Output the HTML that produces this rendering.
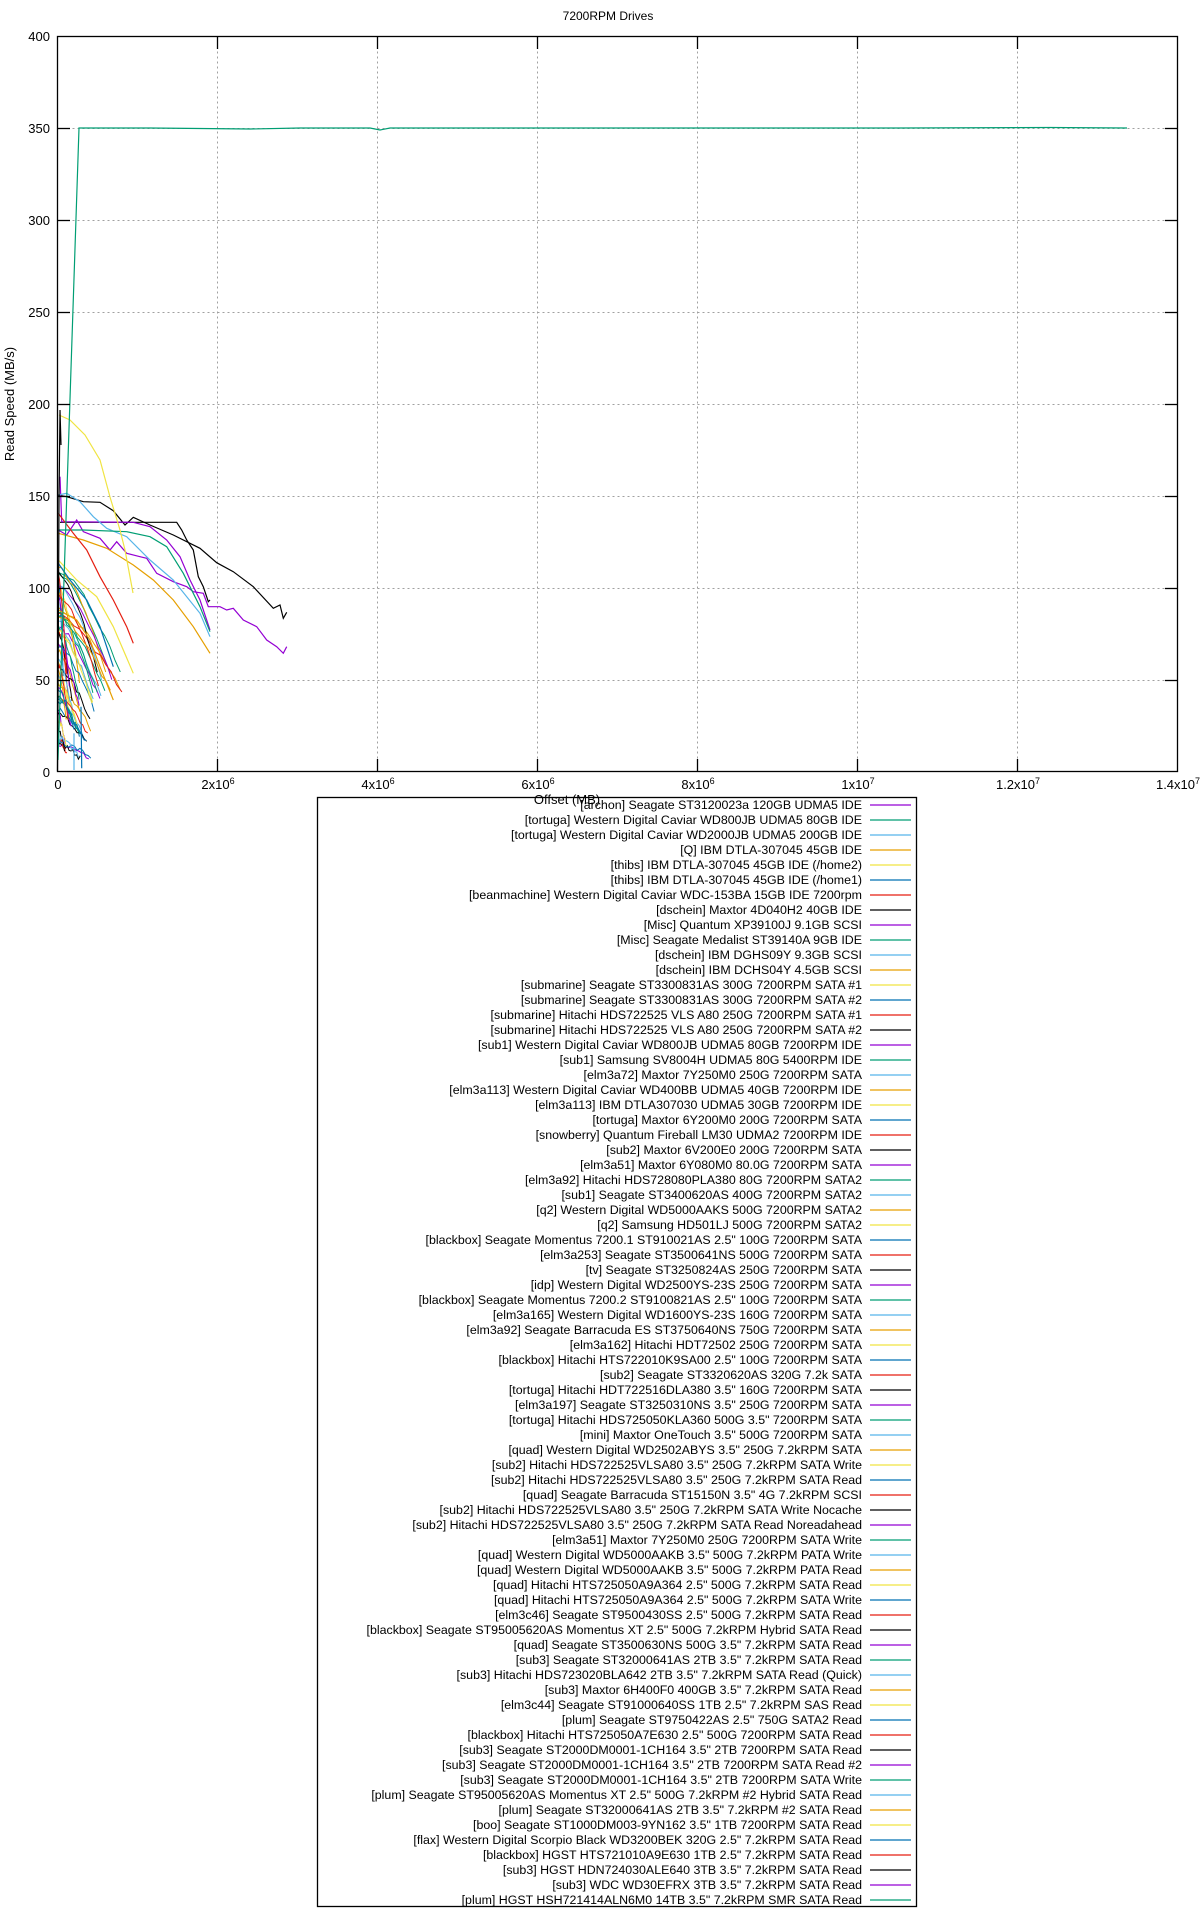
<!DOCTYPE html>
<html><head><meta charset="utf-8"><style>
html,body{margin:0;padding:0;background:#fff;}
svg{display:block;font-family:"Liberation Sans",sans-serif;}
</style></head><body>
<svg id="s" width="1200" height="1920" xmlns="http://www.w3.org/2000/svg">
<rect width="1200" height="1920" fill="#fff"/>
<text x="608" y="20" font-size="12" text-anchor="middle">7200RPM Drives</text>
<g id="grid" stroke="#a0a0a0" stroke-width="1" stroke-dasharray="2,3" fill="none"></g>
<g id="data" fill="none" stroke-width="1.2"></g>
<rect x="57.5" y="36.5" width="1120" height="735" fill="none" stroke="#000" stroke-width="1.3"/>
<g id="ticks" stroke="#000" stroke-width="1.3"></g>
<g font-size="13" text-anchor="end">
<text x="50" y="41">400</text><text x="50" y="133">350</text><text x="50" y="225">300</text>
<text x="50" y="317">250</text><text x="50" y="409">200</text><text x="50" y="501">150</text>
<text x="50" y="593">100</text><text x="50" y="685">50</text><text x="50" y="777">0</text>
</g>
<g font-size="13" text-anchor="middle">
<text x="58" y="789">0</text>
<text x="218" y="789">2x10<tspan font-size="9" dy="-5">6</tspan></text>
<text x="378" y="789">4x10<tspan font-size="9" dy="-5">6</tspan></text>
<text x="538" y="789">6x10<tspan font-size="9" dy="-5">6</tspan></text>
<text x="698" y="789">8x10<tspan font-size="9" dy="-5">6</tspan></text>
<text x="858" y="789">1x10<tspan font-size="9" dy="-5">7</tspan></text>
<text x="1018" y="789">1.2x10<tspan font-size="9" dy="-5">7</tspan></text>
<text x="1178" y="789">1.4x10<tspan font-size="9" dy="-5">7</tspan></text>
</g>
<text x="567" y="804" font-size="13" text-anchor="middle">Offset (MB)</text>
<text transform="translate(14,404) rotate(-90)" font-size="13" text-anchor="middle">Read Speed (MB/s)</text>
<rect x="317.5" y="797.5" width="599" height="1109" fill="none" stroke="#000" stroke-width="1.3"/>
<g id="leg" font-size="12.4" text-anchor="end">
<text x="862" y="809">[archon] Seagate ST3120023a 120GB UDMA5 IDE</text>
<text x="862" y="824">[tortuga] Western Digital Caviar WD800JB UDMA5 80GB IDE</text>
<text x="862" y="839">[tortuga] Western Digital Caviar WD2000JB UDMA5 200GB IDE</text>
<text x="862" y="854">[Q] IBM DTLA-307045 45GB IDE</text>
<text x="862" y="869">[thibs] IBM DTLA-307045 45GB IDE (/home2)</text>
<text x="862" y="884">[thibs] IBM DTLA-307045 45GB IDE (/home1)</text>
<text x="862" y="899">[beanmachine] Western Digital Caviar WDC-153BA 15GB IDE 7200rpm</text>
<text x="862" y="914">[dschein] Maxtor 4D040H2 40GB IDE</text>
<text x="862" y="929">[Misc] Quantum XP39100J 9.1GB SCSI</text>
<text x="862" y="944">[Misc] Seagate Medalist ST39140A 9GB IDE</text>
<text x="862" y="959">[dschein] IBM DGHS09Y 9.3GB SCSI</text>
<text x="862" y="974">[dschein] IBM DCHS04Y 4.5GB SCSI</text>
<text x="862" y="989">[submarine] Seagate ST3300831AS 300G 7200RPM SATA #1</text>
<text x="862" y="1004">[submarine] Seagate ST3300831AS 300G 7200RPM SATA #2</text>
<text x="862" y="1019">[submarine] Hitachi HDS722525 VLS A80 250G 7200RPM SATA #1</text>
<text x="862" y="1034">[submarine] Hitachi HDS722525 VLS A80 250G 7200RPM SATA #2</text>
<text x="862" y="1049">[sub1] Western Digital Caviar WD800JB UDMA5 80GB 7200RPM IDE</text>
<text x="862" y="1064">[sub1] Samsung SV8004H UDMA5 80G 5400RPM IDE</text>
<text x="862" y="1079">[elm3a72] Maxtor 7Y250M0 250G 7200RPM SATA</text>
<text x="862" y="1094">[elm3a113] Western Digital Caviar WD400BB UDMA5 40GB 7200RPM IDE</text>
<text x="862" y="1109">[elm3a113] IBM DTLA307030 UDMA5 30GB 7200RPM IDE</text>
<text x="862" y="1124">[tortuga] Maxtor 6Y200M0 200G 7200RPM SATA</text>
<text x="862" y="1139">[snowberry] Quantum Fireball LM30 UDMA2 7200RPM IDE</text>
<text x="862" y="1154">[sub2] Maxtor 6V200E0 200G 7200RPM SATA</text>
<text x="862" y="1169">[elm3a51] Maxtor 6Y080M0 80.0G 7200RPM SATA</text>
<text x="862" y="1184">[elm3a92] Hitachi HDS728080PLA380 80G 7200RPM SATA2</text>
<text x="862" y="1199">[sub1] Seagate ST3400620AS 400G 7200RPM SATA2</text>
<text x="862" y="1214">[q2] Western Digital WD5000AAKS 500G 7200RPM SATA2</text>
<text x="862" y="1229">[q2] Samsung HD501LJ 500G 7200RPM SATA2</text>
<text x="862" y="1244">[blackbox] Seagate Momentus 7200.1 ST910021AS 2.5" 100G 7200RPM SATA</text>
<text x="862" y="1259">[elm3a253] Seagate ST3500641NS 500G 7200RPM SATA</text>
<text x="862" y="1274">[tv] Seagate ST3250824AS 250G 7200RPM SATA</text>
<text x="862" y="1289">[idp] Western Digital WD2500YS-23S 250G 7200RPM SATA</text>
<text x="862" y="1304">[blackbox] Seagate Momentus 7200.2 ST9100821AS 2.5" 100G 7200RPM SATA</text>
<text x="862" y="1319">[elm3a165] Western Digital WD1600YS-23S 160G 7200RPM SATA</text>
<text x="862" y="1334">[elm3a92] Seagate Barracuda ES ST3750640NS 750G 7200RPM SATA</text>
<text x="862" y="1349">[elm3a162] Hitachi HDT72502 250G 7200RPM SATA</text>
<text x="862" y="1364">[blackbox] Hitachi HTS722010K9SA00 2.5" 100G 7200RPM SATA</text>
<text x="862" y="1379">[sub2] Seagate ST3320620AS 320G 7.2k SATA</text>
<text x="862" y="1394">[tortuga] Hitachi HDT722516DLA380 3.5" 160G 7200RPM SATA</text>
<text x="862" y="1409">[elm3a197] Seagate ST3250310NS 3.5" 250G 7200RPM SATA</text>
<text x="862" y="1424">[tortuga] Hitachi HDS725050KLA360 500G 3.5" 7200RPM SATA</text>
<text x="862" y="1439">[mini] Maxtor OneTouch 3.5" 500G 7200RPM SATA</text>
<text x="862" y="1454">[quad] Western Digital WD2502ABYS 3.5" 250G 7.2kRPM SATA</text>
<text x="862" y="1469">[sub2] Hitachi HDS722525VLSA80 3.5" 250G 7.2kRPM SATA Write</text>
<text x="862" y="1484">[sub2] Hitachi HDS722525VLSA80 3.5" 250G 7.2kRPM SATA Read</text>
<text x="862" y="1499">[quad] Seagate Barracuda ST15150N 3.5" 4G 7.2kRPM SCSI</text>
<text x="862" y="1514">[sub2] Hitachi HDS722525VLSA80 3.5" 250G 7.2kRPM SATA Write Nocache</text>
<text x="862" y="1529">[sub2] Hitachi HDS722525VLSA80 3.5" 250G 7.2kRPM SATA Read Noreadahead</text>
<text x="862" y="1544">[elm3a51] Maxtor 7Y250M0 250G 7200RPM SATA Write</text>
<text x="862" y="1559">[quad] Western Digital WD5000AAKB 3.5" 500G 7.2kRPM PATA Write</text>
<text x="862" y="1574">[quad] Western Digital WD5000AAKB 3.5" 500G 7.2kRPM PATA Read</text>
<text x="862" y="1589">[quad] Hitachi HTS725050A9A364 2.5" 500G 7.2kRPM SATA Read</text>
<text x="862" y="1604">[quad] Hitachi HTS725050A9A364 2.5" 500G 7.2kRPM SATA Write</text>
<text x="862" y="1619">[elm3c46] Seagate ST9500430SS 2.5" 500G 7.2kRPM SATA Read</text>
<text x="862" y="1634">[blackbox] Seagate ST95005620AS Momentus XT 2.5" 500G 7.2kRPM Hybrid SATA Read</text>
<text x="862" y="1649">[quad] Seagate ST3500630NS 500G 3.5" 7.2kRPM SATA Read</text>
<text x="862" y="1664">[sub3] Seagate ST32000641AS 2TB 3.5" 7.2kRPM SATA Read</text>
<text x="862" y="1679">[sub3] Hitachi HDS723020BLA642 2TB 3.5" 7.2kRPM SATA Read (Quick)</text>
<text x="862" y="1694">[sub3] Maxtor 6H400F0 400GB 3.5" 7.2kRPM SATA Read</text>
<text x="862" y="1709">[elm3c44] Seagate ST91000640SS 1TB 2.5" 7.2kRPM SAS Read</text>
<text x="862" y="1724">[plum] Seagate ST9750422AS 2.5" 750G SATA2 Read</text>
<text x="862" y="1739">[blackbox] Hitachi HTS725050A7E630 2.5" 500G 7200RPM SATA Read</text>
<text x="862" y="1754">[sub3] Seagate ST2000DM0001-1CH164 3.5" 2TB 7200RPM SATA Read</text>
<text x="862" y="1769">[sub3] Seagate ST2000DM0001-1CH164 3.5" 2TB 7200RPM SATA Read #2</text>
<text x="862" y="1784">[sub3] Seagate ST2000DM0001-1CH164 3.5" 2TB 7200RPM SATA Write</text>
<text x="862" y="1799">[plum] Seagate ST95005620AS Momentus XT 2.5" 500G 7.2kRPM #2 Hybrid SATA Read</text>
<text x="862" y="1814">[plum] Seagate ST32000641AS 2TB 3.5" 7.2kRPM #2 SATA Read</text>
<text x="862" y="1829">[boo] Seagate ST1000DM003-9YN162 3.5" 1TB 7200RPM SATA Read</text>
<text x="862" y="1844">[flax] Western Digital Scorpio Black WD3200BEK 320G 2.5" 7.2kRPM SATA Read</text>
<text x="862" y="1859">[blackbox] HGST HTS721010A9E630 1TB 2.5" 7.2kRPM SATA Read</text>
<text x="862" y="1874">[sub3] HGST HDN724030ALE640 3TB 3.5" 7.2kRPM SATA Read</text>
<text x="862" y="1889">[sub3] WDC WD30EFRX 3TB 3.5" 7.2kRPM SATA Read</text>
<text x="862" y="1904">[plum] HGST HSH721414ALN6M0 14TB 3.5" 7.2kRPM SMR SATA Read</text>
</g>
<g id="legl" stroke-width="1.3"></g>
</svg>
<script>
var NS="http://www.w3.org/2000/svg";
var C=["#9400d3","#009e73","#56b4e9","#e69f00","#f0e442","#0072b2","#e51e10","#000000"];
function el(p,t,a){var e=document.createElementNS(NS,t);for(var k in a)e.setAttribute(k,a[k]);p.appendChild(e);return e;}
var g=document.getElementById("grid"),tk=document.getElementById("ticks");
for(var i=1;i<8;i++){var y=36.5+i*92;el(g,"line",{x1:57.5,x2:1177.5,y1:y,y2:y});el(tk,"line",{x1:57.5,x2:70,y1:y,y2:y});el(tk,"line",{x1:1165,x2:1177.5,y1:y,y2:y});}
for(var i=1;i<7;i++){var x=57.5+i*160;el(g,"line",{x1:x,x2:x,y1:36.5,y2:771.5});el(tk,"line",{x1:x,x2:x,y1:36.5,y2:49});el(tk,"line",{x1:x,x2:x,y1:759,y2:771.5});}
var ll=document.getElementById("legl");
for(var i=0;i<74;i++){var y=805+i*15;el(ll,"line",{x1:870,x2:911,y1:y,y2:y,stroke:C[i%8]});}
var d=document.getElementById("data");
function pl(pts,c,z){var s=pts.map(function(p){return z?(p[0]/3).toFixed(1)+","+(440+p[1]/3).toFixed(1):p[0]+","+p[1];}).join(" ");el(d,"polyline",{points:s,stroke:c});}
var seed=7;function r(){seed=(seed*16807)%2147483647;return seed/2147483647;}
for(var i=0;i<55;i++){var c=C[i%8];var v0=15+r()*100;var len=5+r()*(v0>80?60:(v0>50?40:28));var pts=[];var n=12;
for(var k=0;k<=n;k++){var t=k/n;var v=v0*(1-0.5*Math.pow(t,1.5))+(r()-0.5)*3;pts.push([(58+t*len).toFixed(1),(772-v*1.84).toFixed(1)]);}
el(d,"polyline",{points:pts.map(function(p){return p.join(",")}).join(" "),stroke:c,"stroke-width":1});}
pl([[222,880],[222,990]],"#56b4e9",1);pl([[243,800],[245,985]],"#0072b2",1);
pl([[172,165],[200,170],[250,185],[300,187],[340,212],[375,255],[400,232],[450,255],[520,285],[600,325],[650,368],[700,395],[760,440],[820,505],[840,495],[850,535],[860,517]],"#000",1);
pl([[180,247],[530,247],[545,270],[560,300],[580,330],[595,410],[610,440],[625,485],[630,480]],"#000",1);
pl([[175,270],[200,285],[230,240],[250,275],[300,295],[330,330],[350,305],[380,340],[420,350],[440,355],[470,400],[520,425],[560,440],[580,455],[610,460],[625,500],[660,500],[680,510],[700,505],[730,540],[770,560],[800,600],[830,620],[850,640],[860,620]],"#9400d3",1);
pl([[180,110],[185,245],[400,247],[450,260],[500,300],[540,350],[570,420],[600,480],[630,570]],"#9400d3",1);
pl([[175,165],[200,160],[240,185],[280,230],[320,265],[380,290],[450,360],[520,420],[600,520],[630,590]],"#56b4e9",1);
pl([[175,270],[250,270],[380,275],[450,290],[500,320],[550,400],[600,500],[630,575]],"#009e73",1);
pl([[175,280],[250,300],[320,325],[400,375],[460,420],[520,480],[580,560],[630,640]],"#e69f00",1);
pl([[175,220],[220,280],[260,330],[300,410],[340,480],[380,560],[400,610]],"#e51e10",1);
pl([[175,360],[230,420],[290,470],[340,560],[400,700]],"#f0e442",1);
pl([[175,370],[210,420],[260,480],[300,560],[340,680]],"#0072b2",1);
pl([[175,510],[230,540],[270,600],[300,680],[340,780]],"#e69f00",1);
pl([[59,415],[70,420],[85,435],[100,460],[110,497],[120,530],[125,550],[133,593]],"#f0e442",0);
pl([[57.5,771],[58,700],[59,500],[60,410],[61,445]],"#000",0);
pl([[58,760],[79,128],[150,128],[250,129],[300,128],[370,128],[380,130],[390,128],[500,128],[700,128],[900,128],[1050,127.5],[1127,128]],"#009e73",0);
</script>
</body></html>
